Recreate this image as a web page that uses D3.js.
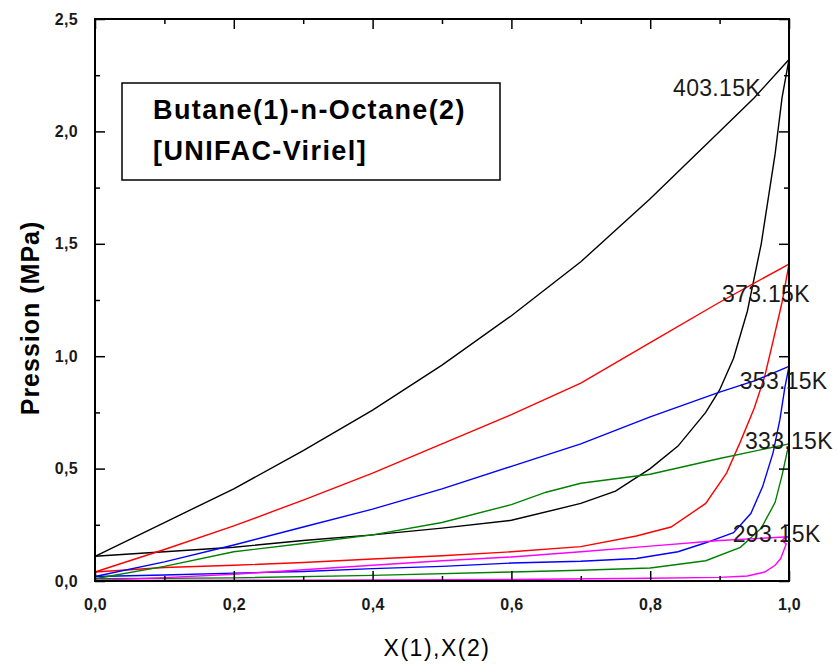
<!DOCTYPE html>
<html>
<head>
<meta charset="utf-8">
<script src="https://cdn.jsdelivr.net/npm/d3@7/dist/d3.min.js"></script>
<style>
  html, body { margin: 0; padding: 0; background: #ffffff; }
  svg { display: block; font-family: Arial, "Liberation Sans", sans-serif; }
</style>
</head>
<body>
<svg id="chart" width="838" height="664"></svg>
<script>
// Butane(1) - n-Octane(2) isotherms: bubble (liquid) and dew (vapour) curves

const temperatures = ["403.15K", "373.15K", "353.15K", "333.15K", "293.15K"];
const lineColors = ["#000000", "#ff0000", "#0000ff", "#008000", "#ff00ff"];

// 403.15 K
const liqX403 = [0, 0.1, 0.2, 0.3, 0.4, 0.5, 0.6, 0.7, 0.8, 0.9, 0.95, 1.0];
const liqP403 = [0.11, 0.26, 0.41, 0.58, 0.76, 0.96, 1.18, 1.42, 1.70, 2.00, 2.15, 2.32];
const vapY403 = [0, 0.1, 0.2, 0.3, 0.4, 0.5, 0.6, 0.7, 0.75, 0.8, 0.84, 0.88, 0.9, 0.92, 0.94, 0.96, 0.98, 0.99, 1.0];
const vapP403 = [0.11, 0.13, 0.15, 0.18, 0.205, 0.235, 0.27, 0.345, 0.40, 0.50, 0.60, 0.75, 0.85, 0.99, 1.20, 1.50, 1.90, 2.15, 2.32];

// 373.15 K
const liqX373 = [0, 0.1, 0.2, 0.3, 0.4, 0.5, 0.6, 0.7, 0.8, 0.9, 1.0];
const liqP373 = [0.04, 0.14, 0.245, 0.36, 0.48, 0.61, 0.74, 0.88, 1.06, 1.24, 1.41];
const vapY373 = [0, 0.1, 0.2, 0.3, 0.4, 0.5, 0.6, 0.7, 0.78, 0.83, 0.88, 0.91, 0.93, 0.95, 0.965, 0.978, 0.99, 1.0];
const vapP373 = [0.04, 0.06, 0.07, 0.082, 0.098, 0.112, 0.13, 0.153, 0.20, 0.24, 0.345, 0.48, 0.62, 0.77, 0.91, 1.08, 1.24, 1.41];

// 353.15 K
const liqX353 = [0, 0.1, 0.2, 0.3, 0.4, 0.5, 0.6, 0.7, 0.8, 0.9, 0.95, 1.0];
const liqP353 = [0.02, 0.085, 0.16, 0.24, 0.32, 0.41, 0.51, 0.61, 0.73, 0.84, 0.89, 0.955];
const vapY353 = [0, 0.1, 0.2, 0.3, 0.4, 0.5, 0.6, 0.7, 0.78, 0.84, 0.88, 0.92, 0.945, 0.962, 0.977, 0.987, 0.994, 1.0];
const vapP353 = [0.02, 0.027, 0.035, 0.042, 0.055, 0.065, 0.08, 0.088, 0.10, 0.13, 0.17, 0.215, 0.30, 0.42, 0.57, 0.72, 0.86, 0.955];

// 333.15 K
const liqX333 = [0, 0.1, 0.2, 0.3, 0.4, 0.5, 0.6, 0.65, 0.7, 0.8, 0.9, 1.0];
const liqP333 = [0.01, 0.065, 0.13, 0.167, 0.205, 0.26, 0.34, 0.395, 0.435, 0.475, 0.545, 0.61];
const vapY333 = [0, 0.2, 0.4, 0.6, 0.7, 0.8, 0.88, 0.93, 0.96, 0.98, 0.99, 0.997, 1.0];
const vapP333 = [0.01, 0.014, 0.025, 0.04, 0.048, 0.058, 0.09, 0.15, 0.235, 0.35, 0.47, 0.57, 0.61];

// 293.15 K
const liqX293 = [0, 0.1, 0.2, 0.3, 0.4, 0.5, 0.6, 0.7, 0.8, 0.9, 1.0];
const liqP293 = [0.003, 0.015, 0.03, 0.05, 0.07, 0.09, 0.107, 0.13, 0.155, 0.18, 0.197];
const vapY293 = [0, 0.3, 0.6, 0.8, 0.9, 0.94, 0.965, 0.98, 0.988, 0.993, 0.996, 0.99, 0.993, 1.0];
const vapP293 = [0.003, 0.004, 0.007, 0.012, 0.016, 0.022, 0.04, 0.07, 0.10, 0.14, 0.165, 0.18, 0.19, 0.197];

// label anchor per isotherm (data coordinates of the text's left edge / middle)
const labelX = [0.833, 0.9035, 0.929, 0.9366, 0.919];
const labelP = [2.193, 1.277, 0.89, 0.623, 0.209];

const xTickLabels = ["0,0", "0,2", "0,4", "0,6", "0,8", "1,0"];
const yTickLabels = ["0,0", "0,5", "1,0", "1,5", "2,0", "2,5"];

const legendLines = ["Butane(1)-n-Octane(2)", "[UNIFAC-Viriel]"];
const xTitle = "X(1),X(2)";
const yTitle = "Pression (MPa)";

const liquid = [[liqX403, liqP403], [liqX373, liqP373], [liqX353, liqP353], [liqX333, liqP333], [liqX293, liqP293]];
const vapour = [[vapY403, vapP403], [vapY373, vapP373], [vapY353, vapP353], [vapY333, vapP333], [vapY293, vapP293]];

const svg = d3.select("#chart");
const plotLeft = 95, plotRight = 789, plotTop = 19, plotBottom = 581;

const x = d3.scaleLinear().domain([0, 1]).range([plotLeft, plotRight]);
const y = d3.scaleLinear().domain([0, 2.5]).range([plotBottom, plotTop]);

const zip = (a, b) => a.map((v, i) => [v, b[i]]);
const line = d3.line().x(d => x(d[0])).y(d => y(d[1]));

// curves
const curves = svg.append("g").attr("fill", "none").attr("stroke-width", 1.4);
temperatures.forEach((t, i) => {
  curves.append("path")
    .attr("d", line(zip(liquid[i][0], liquid[i][1])))
    .attr("stroke", lineColors[i]);
  curves.append("path")
    .attr("d", line(zip(vapour[i][0], vapour[i][1])))
    .attr("stroke", lineColors[i]);
});

// axes: ticks inside on all four sides
const xMajor = d3.range(0, 1.0001, 0.2);
const xMinor = d3.range(0.1, 1, 0.2);
const yMajor = d3.range(0, 2.5001, 0.5);
const yMinor = d3.range(0.25, 2.5, 0.5);

const fmtX = d => xTickLabels[Math.round(d / 0.2)];
const fmtY = d => yTickLabels[Math.round(d / 0.5)];

function addAxis(axisFn, scale, major, minor, transform, fmt, showLabels, pad) {
  const gMin = svg.append("g").attr("transform", transform)
    .call(axisFn(scale).tickValues(minor).tickSize(-5).tickFormat(""));
  const gMaj = svg.append("g").attr("transform", transform)
    .call(axisFn(scale).tickValues(major).tickSize(-10).tickPadding(pad).tickFormat(showLabels ? fmt : ""));
  [gMin, gMaj].forEach(g => {
    g.select(".domain").remove();
    g.selectAll(".tick line").attr("stroke", "#000").attr("stroke-width", 1.5);
  });
  gMaj.selectAll(".tick text")
    .attr("fill", "#1a1a1a")
    .style("font-size", "16px")
    .style("font-weight", "bold")
    .style("letter-spacing", "0.3px");
  return gMaj;
}

addAxis(d3.axisBottom, x, xMajor, xMinor, `translate(0,${plotBottom})`, fmtX, true, 18);
addAxis(d3.axisTop, x, xMajor, xMinor, `translate(0,${plotTop})`, fmtX, false, 18);
addAxis(d3.axisLeft, y, yMajor, yMinor, `translate(${plotLeft},0)`, fmtY, true, 17);
addAxis(d3.axisRight, y, yMajor, yMinor, `translate(${plotRight},0)`, fmtY, false, 17);

// frame
svg.append("rect")
  .attr("x", plotLeft).attr("y", plotTop)
  .attr("width", plotRight - plotLeft).attr("height", plotBottom - plotTop)
  .attr("fill", "none").attr("stroke", "#000").attr("stroke-width", 2);

// isotherm labels
temperatures.forEach((t, i) => {
  svg.append("text")
    .attr("x", x(labelX[i])).attr("y", y(labelP[i]))
    .attr("dy", "0.36em")
    .attr("fill", "#1a1a1a")
    .style("font-size", "23px")
    .style("letter-spacing", "0.3px")
    .text(t);
});

// legend box
svg.append("rect")
  .attr("x", 122).attr("y", 83).attr("width", 378).attr("height", 97)
  .attr("fill", "#fff").attr("stroke", "#000").attr("stroke-width", 1.5);
legendLines.forEach((s, i) => {
  svg.append("text")
    .attr("x", 153).attr("y", 119 + i * 41)
    .attr("fill", "#000")
    .style("font-size", "27px").style("font-weight", "bold")
    .style("letter-spacing", "1.4px")
    .text(s);
});

// axis titles
svg.append("text")
  .attr("x", 437).attr("y", 656)
  .attr("text-anchor", "middle")
  .attr("fill", "#000")
  .style("font-size", "23px")
  .style("letter-spacing", "1.5px")
  .text(xTitle);

svg.append("text")
  .attr("transform", `translate(39,318) rotate(-90)`)
  .attr("text-anchor", "middle")
  .attr("fill", "#000")
  .style("font-size", "25px").style("font-weight", "bold")
  .style("letter-spacing", "1px")
  .text(yTitle);
</script>
</body>
</html>
